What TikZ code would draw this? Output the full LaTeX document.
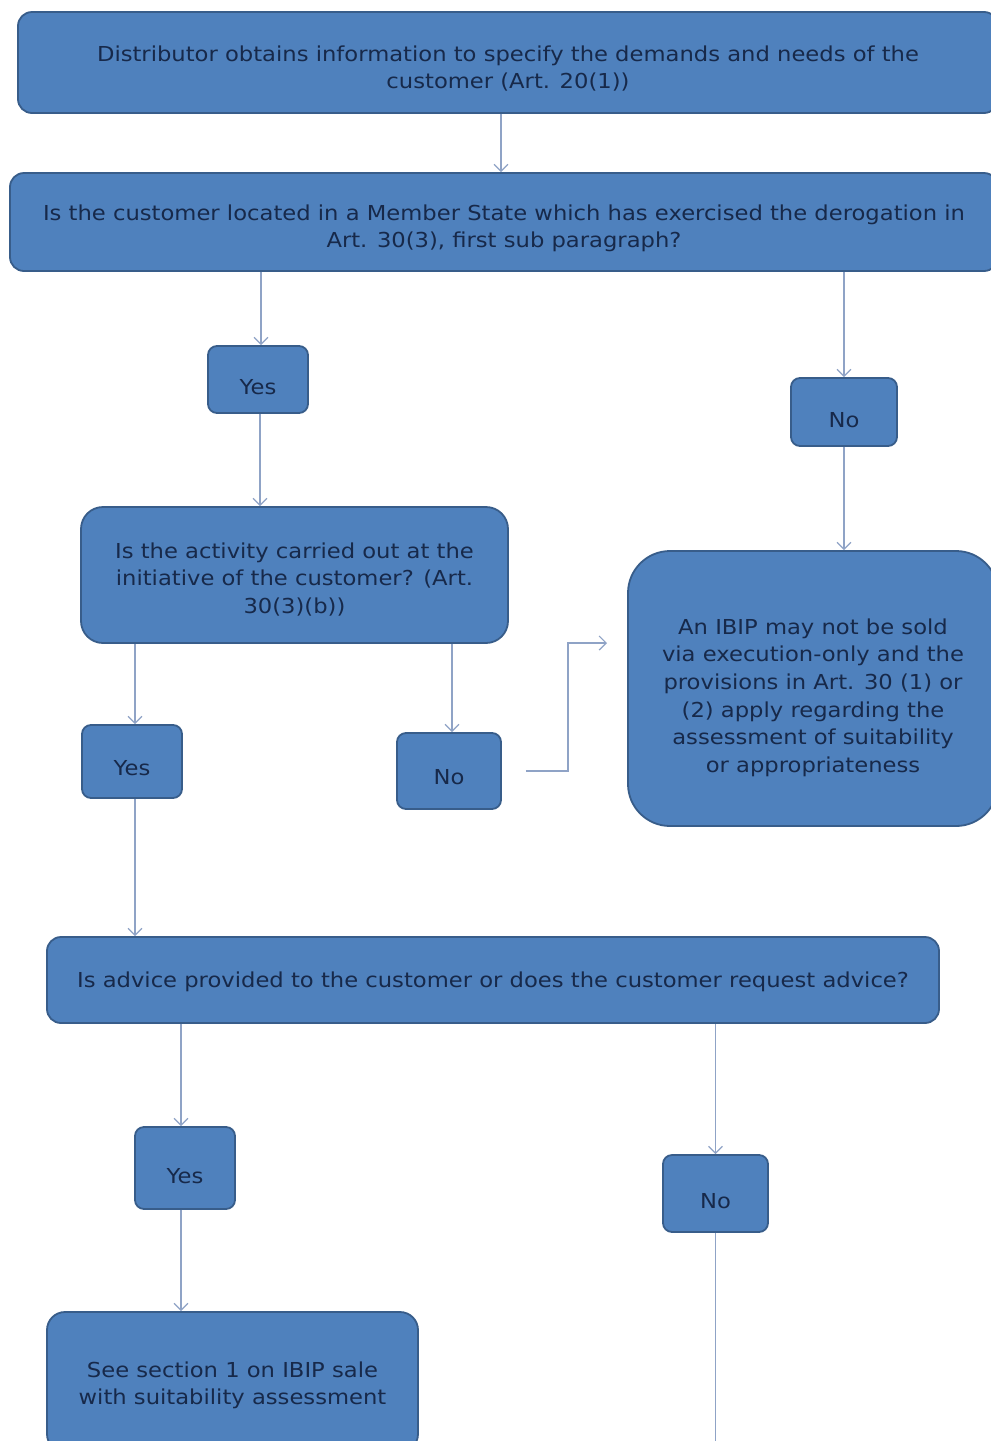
\documentclass[tikz,border=0pt]{standalone}
\usepackage{fontspec}
\setmainfont{DejaVu Sans}[FakeStretch=1.1]
\usetikzlibrary{arrows.meta,positioning}
\definecolor{boxfill}{HTML}{4F81BD}
\definecolor{boxline}{HTML}{385D8A}
\definecolor{boxtext}{HTML}{17294A}
\definecolor{arrowcol}{HTML}{8FA3C6}
\newcommand{\dnstrut}[1][28pt]{\rule{0pt}{#1}}
\tikzset{
  box/.style={draw=boxline, line width=1.8pt, fill=boxfill, text=boxtext,
    rounded corners=14pt, align=center, inner sep=0pt,
    font=\fontsize{20.6}{27.6}\selectfont},
  smallbox/.style={box, rounded corners=9pt},
  conn/.style={draw=arrowcol, line width=1.3pt, -{Straight Barb[length=7pt,width=14pt,line width=1.2pt]}},
  plainconn/.style={draw=arrowcol, line width=1.3pt},
}
\begin{document}
\begin{tikzpicture}[x=1pt,y=-1pt]
\useasboundingbox (0,0) rectangle (991,1441);
\fill[white] (0,0) rectangle (991,1441);

\node[box, minimum width=980, minimum height=101] (b1) at (508,62.5)
  {\dnstrut Distributor obtains information to specify the demands and needs of the\\customer (Art. 20(1))};
\node[box, minimum width=988, minimum height=98] (b2) at (504,222)
  {\dnstrut Is the customer located in a Member State which has exercised the derogation in\\Art. 30(3), first sub paragraph?};
\node[smallbox, minimum width=100, minimum height=67] (y1) at (258,379.5) {\dnstrut[31pt]Yes};
\node[smallbox, minimum width=106, minimum height=68] (n1) at (844,412) {\dnstrut[31pt]No};
\node[box, rounded corners=22pt, minimum width=427, minimum height=136] (q2) at (294.5,575)
  {\dnstrut[24pt]Is the activity carried out at the\\initiative of the customer? (Art.\\30(3)(b))};
\node[box, rounded corners=42pt, minimum width=370, minimum height=275] (ibip) at (813,688.5)
  {\dnstrut[34pt]An IBIP may not be sold\\via execution-only and the\\provisions in Art. 30 (1) or\\(2) apply regarding the\\assessment of suitability\\or appropriateness};
\node[smallbox, minimum width=100, minimum height=73] (y2) at (132,761.5) {\dnstrut Yes};
\node[smallbox, minimum width=104, minimum height=76] (n2) at (449,771) {\dnstrut No};
\node[box, minimum width=892, minimum height=86] (q3) at (493,980)
  {\dnstrut[19pt]Is advice provided to the customer or does the customer request advice?};
\node[smallbox, minimum width=100, minimum height=82] (y3) at (185,1168) {\dnstrut[32pt]Yes};
\node[smallbox, minimum width=105, minimum height=77] (n3) at (715.5,1193.5) {\dnstrut[30pt]No};
\node[box, rounded corners=18pt, minimum width=371, minimum height=140] (fin) at (232.5,1382)
  {\dnstrut[22pt]See section 1 on IBIP sale\\with suitability assessment};

\coordinate (n3end) at (715.5,1441);
\coordinate (elbowA) at (568,771);
\coordinate (elbowB) at (568,643);
\coordinate (ibipin) at (607,643);

\draw[conn] (b1.south -| 501,0) -- (b2.north -| 501,0);
\draw[conn] (b2.south -| 261,0) -- (y1.north -| 261,0);
\draw[conn] (b2.south -| n1) -- (n1.north);
\draw[conn] (y1.south -| 260,0) -- (q2.north -| 260,0);
\draw[conn] (n1.south) -- (ibip.north -| n1);
\draw[conn] (q2.south -| 135,0) -- (y2.north -| 135,0);
\draw[conn] (q2.south -| 452,0) -- (n2.north -| 452,0);
\draw[plainconn, -{Straight Barb[length=7pt,width=14pt,line width=1.2pt]}] ([xshift=24pt]n2.east) -- (elbowA) -- (elbowB) -- (ibipin);
\draw[conn] (y2.south -| 135,0) -- (q3.north -| 135,0);
\draw[conn] (q3.south -| 181,0) -- (y3.north -| 181,0);
\draw[conn] (q3.south -| n3) -- (n3.north);
\draw[conn] (y3.south -| 181,0) -- (fin.north -| 181,0);
\draw[plainconn] (n3.south) -- (n3end);
\end{tikzpicture}
\end{document}
